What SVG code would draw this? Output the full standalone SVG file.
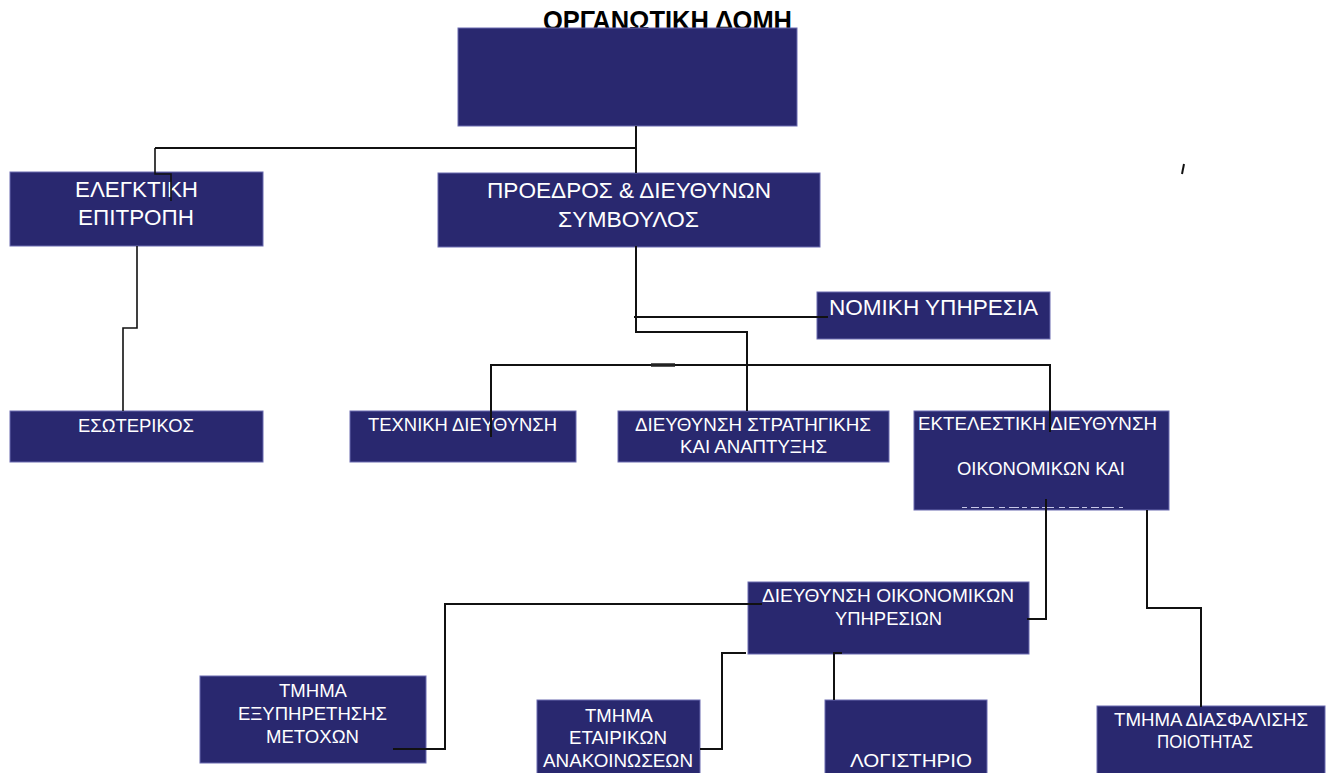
<svg xmlns="http://www.w3.org/2000/svg" width="1330" height="773" viewBox="0 0 1330 773">
<style>
.box{fill:#29286f;stroke:#6a6ab0;stroke-width:1}
.t{font-family:"Liberation Sans",Arial,sans-serif;fill:#ffffff}
.l{font-size:22px}
.s{font-size:18px}
.title{font-family:"Liberation Sans",Arial,sans-serif;font-weight:bold;font-size:28px;fill:#000}
.c{fill:none;stroke:#111;stroke-width:2}
</style>
<rect width="1330" height="773" fill="#ffffff"/>
<text class="title" x="543" y="30" textLength="249" lengthAdjust="spacingAndGlyphs">ΟΡΓΑΝΩΤΙΚΗ ΔΟΜΗ</text>
<g id="top"><rect class="box" x="458" y="28" width="339" height="98"/></g>
<g id="elegktiki"><rect class="box" x="10" y="172" width="253" height="74"/>
<text class="t l" x="75" y="197" textLength="123" lengthAdjust="spacingAndGlyphs">ΕΛΕΓΚΤΙΚΗ</text>
<text class="t l" x="78" y="225" textLength="116" lengthAdjust="spacingAndGlyphs">ΕΠΙΤΡΟΠΗ</text></g>
<g id="proedros"><rect class="box" x="438" y="173" width="382" height="74"/>
<text class="t l" x="487" y="198" textLength="284" lengthAdjust="spacingAndGlyphs">ΠΡΟΕΔΡΟΣ &amp; ΔΙΕΥΘΥΝΩΝ</text>
<text class="t l" x="558" y="227" textLength="141" lengthAdjust="spacingAndGlyphs">ΣΥΜΒΟΥΛΟΣ</text></g>
<g id="nomiki"><rect class="box" x="817" y="292" width="233" height="47"/>
<text class="t l" x="829" y="315" textLength="209" lengthAdjust="spacingAndGlyphs">ΝΟΜΙΚΗ ΥΠΗΡΕΣΙΑ</text></g>
<g id="esoterikos"><rect class="box" x="10" y="411" width="253" height="51"/>
<text class="t s" x="78" y="432" textLength="116" lengthAdjust="spacingAndGlyphs">ΕΣΩΤΕΡΙΚΟΣ</text></g>
<g id="techniki"><rect class="box" x="350" y="411" width="226" height="51"/>
<text class="t s" x="368" y="431" textLength="189" lengthAdjust="spacingAndGlyphs">ΤΕΧΝΙΚΗ ΔΙΕΥΘΥΝΣΗ</text></g>
<g id="stratigikis"><rect class="box" x="618" y="411" width="271" height="51"/>
<text class="t s" x="635" y="431" textLength="236" lengthAdjust="spacingAndGlyphs">ΔΙΕΥΘΥΝΣΗ ΣΤΡΑΤΗΓΙΚΗΣ</text>
<text class="t s" x="680" y="453" textLength="147" lengthAdjust="spacingAndGlyphs">ΚΑΙ ΑΝΑΠΤΥΞΗΣ</text></g>
<g id="ektelestiki"><rect class="box" x="914" y="411" width="255" height="99"/>
<text class="t s" x="918" y="430" textLength="239" lengthAdjust="spacingAndGlyphs">ΕΚΤΕΛΕΣΤΙΚΗ ΔΙΕΥΘΥΝΣΗ</text>
<text class="t s" x="957" y="475" textLength="168" lengthAdjust="spacingAndGlyphs">ΟΙΚΟΝΟΜΙΚΩΝ ΚΑΙ</text>
<line x1="962" y1="507.5" x2="1123" y2="507.5" stroke="#c8c8e8" stroke-width="1" stroke-dasharray="5 4 8 3 12 5 6 4 10 3"/></g>
<g id="dieythynsi-oikonomikon"><rect class="box" x="748" y="582" width="281" height="72"/>
<text class="t s" x="762" y="602" textLength="252" lengthAdjust="spacingAndGlyphs">ΔΙΕΥΘΥΝΣΗ  ΟΙΚΟΝΟΜΙΚΩΝ</text>
<text class="t s" x="835" y="625" textLength="107" lengthAdjust="spacingAndGlyphs">ΥΠΗΡΕΣΙΩΝ</text></g>
<g id="exypiretisis"><rect class="box" x="200" y="676" width="226" height="87"/>
<text class="t s" x="279" y="697" textLength="68" lengthAdjust="spacingAndGlyphs">ΤΜΗΜΑ</text>
<text class="t s" x="238" y="720" textLength="149" lengthAdjust="spacingAndGlyphs">ΕΞΥΠΗΡΕΤΗΣΗΣ</text>
<text class="t s" x="266" y="743" textLength="93" lengthAdjust="spacingAndGlyphs">ΜΕΤΟΧΩΝ</text></g>
<g id="etairikon"><rect class="box" x="537" y="700" width="163" height="80"/>
<text class="t s" x="585" y="722" textLength="68" lengthAdjust="spacingAndGlyphs">ΤΜΗΜΑ</text>
<text class="t s" x="569" y="744" textLength="98" lengthAdjust="spacingAndGlyphs">ΕΤΑΙΡΙΚΩΝ</text>
<text class="t s" x="543" y="767" textLength="150" lengthAdjust="spacingAndGlyphs">ΑΝΑΚΟΙΝΩΣΕΩΝ</text></g>
<g id="logistirio"><rect class="box" x="825" y="700" width="162" height="80"/>
<text class="t s" x="850" y="767" textLength="122" lengthAdjust="spacingAndGlyphs">ΛΟΓΙΣΤΗΡΙΟ</text></g>
<g id="diasfalisis"><rect class="box" x="1097" y="706" width="228" height="74"/>
<text class="t s" x="1114" y="726" textLength="194" lengthAdjust="spacingAndGlyphs">ΤΜΗΜΑ ΔΙΑΣΦΑΛΙΣΗΣ</text>
<text class="t s" x="1157" y="748" textLength="96" lengthAdjust="spacingAndGlyphs">ΠΟΙΟΤΗΤΑΣ</text></g>
<g id="connectors">
<path class="c" d="M155,148 H636 M636,126 V173"/>
<path class="c" style="stroke-width:1.6" d="M155,148 V174 H171 V201"/>
<path class="c" style="stroke-width:1.6" d="M137,246 V328 H123 V411"/>
<path class="c" d="M636,246 V332 H747 V411"/>
<path class="c" d="M634,317 H828"/>
<path class="c" d="M491,437 V365 H1050 V432"/>
<path class="c" style="stroke:#222;stroke-width:3.5" d="M651,365 H675"/>
<path class="c" d="M1046,499 V619 H1027"/>
<path class="c" d="M1147,510 V608 H1201 V707"/>
<path class="c" d="M762,604 H445 V749 H393"/>
<path class="c" d="M746,653 H722 V749 H700"/>
<path class="c" d="M842,653 H834 V700"/>
<path class="c" d="M1184,164 L1182,174"/>
</g>
</svg>
